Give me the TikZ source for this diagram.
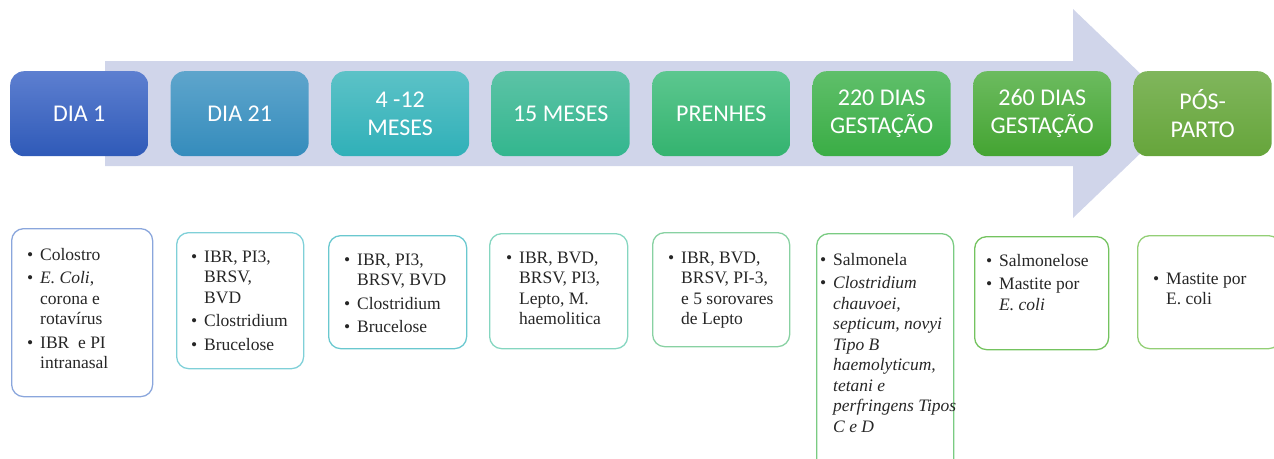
\documentclass[tikz,border=0pt]{standalone}
\usepackage{fontspec}
\setmainfont{Liberation Serif}
\newfontfamily\stagefont{Carlito}
\newcommand\bul{\llap{\textbullet\hspace{7pt}}}
\newcommand\ind{}
\definecolor{arrowc}{HTML}{D0D5EA}
\definecolor{s1t}{HTML}{5D7FD0}\definecolor{s1b}{HTML}{2F5AB8}
\definecolor{s2t}{HTML}{5EA5CC}\definecolor{s2b}{HTML}{358CBC}
\definecolor{s3t}{HTML}{5CC2C7}\definecolor{s3b}{HTML}{30B0B8}
\definecolor{s4t}{HTML}{5CC3A6}\definecolor{s4b}{HTML}{33B68E}
\definecolor{s5t}{HTML}{5CC78F}\definecolor{s5b}{HTML}{34B36F}
\definecolor{s6t}{HTML}{5FBF6A}\definecolor{s6b}{HTML}{3AAD45}
\definecolor{s7t}{HTML}{6CBB5F}\definecolor{s7b}{HTML}{44A432}
\definecolor{s8t}{HTML}{80B65C}\definecolor{s8b}{HTML}{66A53B}
\definecolor{f1}{HTML}{8AA6DC}
\definecolor{f2}{HTML}{7FD0D8}
\definecolor{f3}{HTML}{6AC8CF}
\definecolor{f4}{HTML}{85D6C0}
\definecolor{f5}{HTML}{88D1A2}
\definecolor{f6}{HTML}{7ACB82}
\definecolor{f7}{HTML}{74C35F}
\definecolor{f8}{HTML}{93CF76}
\begin{document}
\begin{tikzpicture}[x=1pt,y=-1pt,
  stage/.style={rounded corners=14pt, minimum width=138pt, minimum height=85pt,
    inner sep=0pt, font=\stagefont\fontsize{24}{28}\selectfont, text=white,
    align=center, anchor=north west},
  card/.style={rounded corners=12pt, line width=1.3pt, inner sep=0pt, anchor=north west},
  list/.style={anchor=north west, inner sep=0pt, align=left,
    font=\fontsize{17.5}{20.5}\selectfont, text=black!85}]
\useasboundingbox (0,0) rectangle (1274,458);
\clip (0,0) rectangle (1274,458);
% timeline arrow
\fill[arrowc] (105,61) -- (1073,61) -- (1073,9) -- (1182,113.5) -- (1073,218)
  -- (1073,166) -- (105,166) -- cycle;
% stage boxes
\node[stage, top color=s1t, bottom color=s1b] (s1) at (10,71) {DIA 1};
\node[stage, top color=s2t, bottom color=s2b] (s2) at (170.5,71) {DIA 21};
\node[stage, top color=s3t, bottom color=s3b] (s3) at (331,71) {4 -12\\MESES};
\node[stage, top color=s4t, bottom color=s4b] (s4) at (491.5,71) {15 MESES};
\node[stage, top color=s5t, bottom color=s5b] (s5) at (652,71) {PRENHES};
\node[stage, top color=s6t, bottom color=s6b] (s6) at (812.5,71) {220 DIAS\\GESTAÇÃO};
\node[stage, top color=s7t, bottom color=s7b] (s7) at (973,71) {260 DIAS\\GESTAÇÃO};
\node[stage, top color=s8t, bottom color=s8b] (s8) at (1133.5,71) {PÓS-\\PARTO};
% cards
\node[card, draw=f1, minimum width=141pt, minimum height=168pt] (b1) at (11,228) {};
\node[card, draw=f2, minimum width=127pt, minimum height=136pt] (b2) at (176,232) {};
\node[card, draw=f3, minimum width=138pt, minimum height=113pt] (b3) at (328,235) {};
\node[card, draw=f4, minimum width=138pt, minimum height=115pt] (b4) at (489,233) {};
\node[card, draw=f5, minimum width=137pt, minimum height=114pt] (b5) at (652,232) {};
\node[card, draw=f6, minimum width=137pt, minimum height=240pt] (b6) at (816,233) {};
\node[card, draw=f7, minimum width=134pt, minimum height=113pt] (b7) at (974,236) {};
\node[card, draw=f8, minimum width=143pt, minimum height=113pt] (b8) at (1137,235) {};
% card texts
\node[list] (t1) at (40,245.6) {\strut\bul Colostro\\[3pt]
  \bul\textit{E. Coli}, \\ corona e\\ rotavírus\\[3pt]
  \bul IBR\ \ e PI\\ intranasal};
\node[list] (t2) at (204,247.6) {\strut\bul IBR, PI3,\\ BRSV,\\ BVD\\[3pt]
  \bul Clostridium\\[3pt] \bul Brucelose};
\node[list] (t3) at (357,250.6) {\strut\bul IBR, PI3,\\ BRSV, BVD\\[3pt]
  \bul Clostridium\\[3pt] \bul Brucelose};
\node[list] (t4) at (519,248.6) {\strut\bul IBR, BVD,\\ BRSV, PI3,\\ Lepto, M.\\ haemolitica};
\node[list] (t5) at (681,248.6) {\strut\bul IBR, BVD,\\ BRSV, PI-3,\\ e 5 sorovares\\ de Lepto};
\node[list] (t6) at (833,250.6) {\strut\bul Salmonela\\[3pt]
  \bul\textit{Clostridium}\\ \textit{chauvoei,}\\ \textit{septicum, novyi}\\
  \textit{Tipo B}\\ \textit{haemolyticum,}\\ \textit{tetani e}\\
  \textit{perfringens Tipos}\\ \textit{C e D}};
\node[list] (t7) at (999,251.6) {\strut\bul Salmonelose\\[3pt]
  \bul Mastite por\\ \textit{E. coli}};
\node[list] (t8) at (1166,269.6) {\strut\bul Mastite por\\ E. coli};
\end{tikzpicture}
\end{document}
